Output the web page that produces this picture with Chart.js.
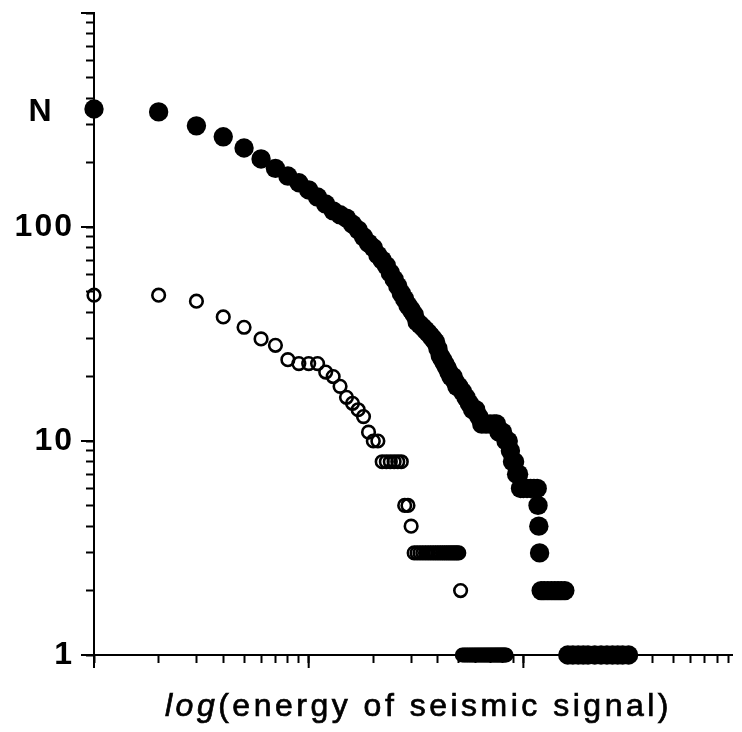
<!DOCTYPE html>
<html>
<head>
<meta charset="utf-8">
<script src="https://cdn.jsdelivr.net/npm/chart.js@4/dist/chart.umd.min.js"></script>
<style>
html,body{margin:0;padding:0;background:#fff;overflow:hidden}
#wrap{width:742px;height:732px;position:relative}
</style>
</head>
<body>
<div id="wrap"><canvas id="c"></canvas></div>
<script>
// ---- data ----
// filled dots: energy value (x) and cumulative count N
const filledX = [1,2,3,4,5,6,7,8,9,10,
  11,12,13,14,15,16,17,18,19,20,
  21,22,23,24,25,26,27,28,29,30,
  31,32,33,34,35,36,37,38,39,40,
  41,42,43,44,45,46,47,48,49,50,
  52,54,56,58,60,62,64,67,70,73,
  75,77,80,83,85,87,89,91,93,95,
  97,100,104,108,112,116,117,118,119,121,
  125,130,135,140,145,150,156,161,170,180,
  190,200,215,230,245,260,275,290,309];
const filledN = [356,345,297,264,234,208,188,173,161,149,
  138,128,119,114,110,103,97,90,84,80,
  74,70,66,61,57,53,49,46,43,41,
  39,36,35,34,33,32,31,30,29,27,
  25,24,23,22,21,20,20,19,18,18,
  17,16,15,14,14,13,12,12,12,12,
  12,11,11,10,10,9,8,8,7,7,
  6,6,6,6,6,6,5,4,3,2,
  2,2,2,2,2,2,2,1,1,1,
  1,1,1,1,1,1,1,1,1];
// open circles
const openX = [1,2,3,4,5,6,7,8,9,10,
  11,12,13,14,15,16,17,18,19,20,
  21,22,23,24,25,26,27,28,29,30,
  31,32,33,34,35,36,37,38,39,40,
  41,42,43,44,45,46,47,48,49,50,
  51,52,53,54,55,56,57,58,59,60,
  61,62,63,64,65,66,67,68,69,70,
  71,72,73,74,75,76,77,78,79,80,
  81,82,83];
const openN = [48,48,45,38,34,30,28,24,23,23,
  23,21,20,18,16,15,14,13,11,10,
  10,8,8,8,8,8,8,5,5,4,
  3,3,3,3,3,3,3,3,3,3,
  3,3,3,3,3,3,3,3,3,3,
  2,1,1,1,1,1,1,1,1,1,
  1,1,1,1,1,1,1,1,1,1,
  1,1,1,1,1,1,1,1,1,1,
  1,1,1];
const xTickValues = [1,2,3,4,5,6,7,8,9,10,20,30,40,50,60,70,80,90,100,200,300,400,500,600,700,800,900];
const yTickValues = [1,2,3,4,5,6,7,8,9,10,20,30,40,50,60,70,80,90,100,200,300,400,500,600,700,800,900,1000];
const yLabelValues = [1,10,100];
const xMajorValues = [1,10,100];
const yMajorValues = [1,10,100,1000];
const yTitleText = 'N';
const xTitleItalic = 'log';
const xTitleRest = '(energy of seismic signal)';

const FONT = '"Liberation Sans", Arial, Helvetica, sans-serif';

const decorPlugin = {
  id: 'decor',
  beforeDraw(chart) {
    chart.ctx.letterSpacing = '2px';
  },
  afterDraw(chart) {
    const ctx = chart.ctx;
    const xs = chart.scales.x, ys = chart.scales.y;
    const area = chart.chartArea;
    ctx.save();
    ctx.strokeStyle = '#000';
    ctx.lineWidth = 2;
    // longer major ticks
    ctx.beginPath();
    xMajorValues.forEach(v => {
      const px = xs.getPixelForValue(v);
      ctx.moveTo(px, area.bottom);
      ctx.lineTo(px, area.bottom + 13);
    });
    yMajorValues.forEach(v => {
      const py = ys.getPixelForValue(v);
      ctx.moveTo(area.left, py);
      ctx.lineTo(area.left - 13, py);
    });
    ctx.stroke();
    ctx.fillStyle = '#000';
    // N label
    ctx.letterSpacing = '0px';
    ctx.font = 'bold 32px ' + FONT;
    ctx.textAlign = 'center';
    ctx.textBaseline = 'middle';
    ctx.fillText(yTitleText, 40, 112);
    // x title with italic "log"
    ctx.letterSpacing = '3.5px';
    ctx.textAlign = 'left';
    ctx.textBaseline = 'alphabetic';
    ctx.lineWidth = 0.7;
    const fi = 'italic 32px ' + FONT;
    const fn = '32px ' + FONT;
    let x = 165;
    ctx.font = fi;
    ctx.fillText(xTitleItalic, x, 716);
    ctx.strokeText(xTitleItalic, x, 716);
    x += ctx.measureText(xTitleItalic).width;
    ctx.font = fn;
    ctx.fillText(xTitleRest, x, 716);
    ctx.strokeText(xTitleRest, x, 716);
    ctx.restore();
    ctx.letterSpacing = '0px';
  }
};

const axisGrid = {
  display: true,
  drawOnChartArea: false,
  drawTicks: true,
  tickLength: 8,
  tickWidth: 2,
  tickColor: '#000'
};

new Chart(document.getElementById('c'), {
  type: 'scatter',
  data: {
    datasets: [
      {
        label: 'filled',
        data: filledX.map((x, i) => ({x: x, y: filledN[i]})),
        pointStyle: 'circle',
        pointRadius: 9.7,
        pointHoverRadius: 9.7,
        pointBackgroundColor: '#000',
        pointBorderColor: '#000',
        pointBorderWidth: 0,
        showLine: false,
        clip: false
      },
      {
        label: 'open',
        data: openX.map((x, i) => ({x: x, y: openN[i]})),
        pointStyle: 'circle',
        pointRadius: 6.3,
        pointHoverRadius: 6.3,
        pointBackgroundColor: 'rgba(0,0,0,0)',
        pointBorderColor: '#000',
        pointBorderWidth: 2.6,
        showLine: false,
        clip: false
      }
    ]
  },
  options: {
    responsive: true,
    maintainAspectRatio: false,
    animation: false,
    events: [],
    layout: {padding: {top: 13, left: 0, right: 0, bottom: 0}},
    plugins: {legend: {display: false}, tooltip: {enabled: false}},
    scales: {
      x: {
        type: 'logarithmic',
        position: 'bottom',
        min: 1,
        max: 940,
        afterBuildTicks: s => { s.ticks = xTickValues.map(v => ({value: v})); },
        afterFit: s => { s.height = 77; s.paddingLeft = 0; s.paddingRight = 0; },
        ticks: {display: false, autoSkip: false},
        grid: axisGrid,
        border: {display: true, color: '#000', width: 2}
      },
      y: {
        type: 'logarithmic',
        position: 'left',
        min: 1,
        max: 1000,
        afterBuildTicks: s => { s.ticks = yTickValues.map(v => ({value: v})); },
        afterFit: s => { s.width = 94; s.paddingTop = 0; s.paddingBottom = 0; },
        ticks: {
          autoSkip: false,
          padding: 12,
          color: '#000',
          font: {family: FONT, size: 32, weight: 'bold'},
          callback: v => yLabelValues.includes(v) ? String(v) : ''
        },
        grid: axisGrid,
        border: {display: true, color: '#000', width: 2}
      }
    }
  },
  plugins: [decorPlugin]
});
</script>
</body>
</html>
